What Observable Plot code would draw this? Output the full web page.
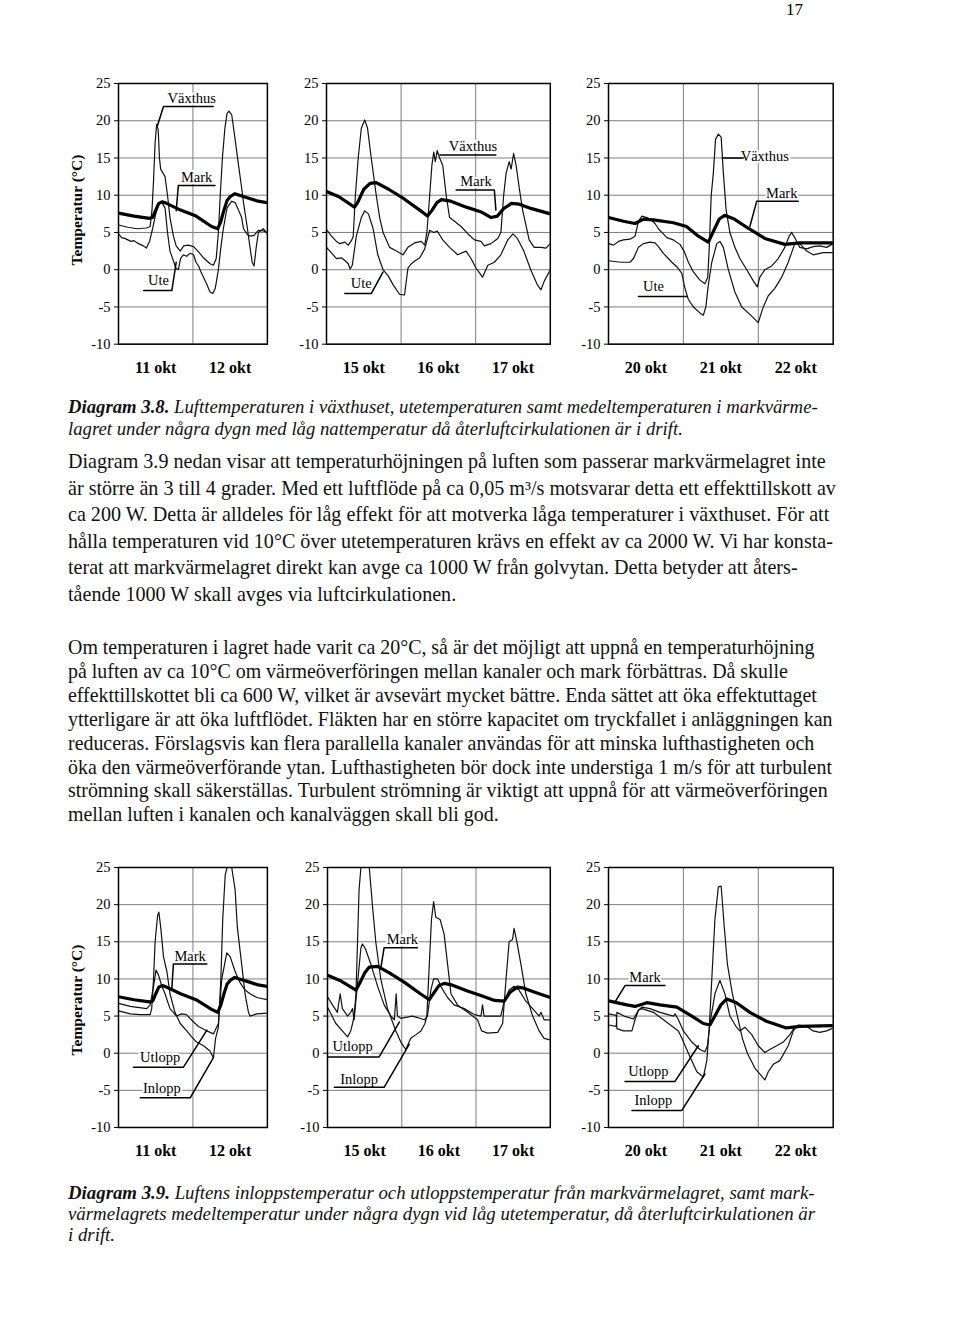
<!DOCTYPE html>
<html><head><meta charset="utf-8">
<script src="https://cdn.jsdelivr.net/npm/d3@7"></script>
<script src="https://cdn.jsdelivr.net/npm/@observablehq/plot@0.6"></script>
<style>
body{margin:0;background:#fff;}
#page{position:relative;width:960px;height:1344px;overflow:hidden;background:#fff;}
.chart{position:absolute;}
#txt{position:absolute;left:0;top:0;}
</style></head><body><div id="page"></div>
<script>
// ---------------- DATA ----------------
const yTicks = [-10, -5, 0, 5, 10, 15, 20, 25];
const daysA = ["11 okt", "12 okt"];
const daysB = ["15 okt", "16 okt", "17 okt"];
const daysC = ["20 okt", "21 okt", "22 okt"];

// Diagram 3.8 — [hour, °C]
const vaxthusA = [[0,6.0],[3,5.7],[6,5.5],[9,5.6],[10.2,5.8],[10.8,8],[11.3,12],[11.8,17],[12.3,19.5],[12.8,18.8],[13.2,15],[13.6,13.5],[14.3,13],[15,12.5],[15.8,10],[16.6,7],[17.7,4.5],[18.6,3.2],[19.9,2.5],[21,3.2],[22.5,3.3],[24.2,3.1],[25.8,2.4],[27.4,1.6],[29.5,0.8],[30.6,0.6],[31.5,1.5],[32.2,5],[32.8,10],[33.5,15],[34.3,19],[35.0,21.0],[35.6,21.3],[36.5,20.8],[37.6,17.5],[38.7,14],[39.7,11],[40.3,9],[41.4,6],[42.4,3],[43.1,1],[43.7,0.5],[44.4,3],[45.1,5],[46.7,5.5],[48,4.8]];
const uteA = [[0,4.8],[1,4.3],[2,4.2],[3,4.0],[4,3.8],[5,3.9],[6,3.6],[7,3.4],[8,3.2],[9,2.9],[10,3.8],[11,5.5],[12,7.5],[13,8.8],[14,9.0],[15,8.3],[15.8,5],[16.6,2.5],[17.7,1.2],[18.5,0.2],[19.3,0.0],[20,1.5],[20.9,2.0],[22,1.8],[23,2.2],[24.2,2.0],[25,1.0],[25.8,0.5],[26.6,-0.3],[27.4,-1.0],[28.5,-2.0],[29.5,-3.0],[30.4,-3.2],[31.2,-2.5],[32.2,0],[33.0,3],[33.8,5.5],[35,8.3],[36.5,9.2],[37.6,9.0],[38.7,8],[39.7,7],[40.3,5.5],[41.4,4.8],[42.4,4.5],[43.7,4.6],[45.1,5.3],[46.7,5.2],[48,5.0]];
const markA = [[0,7.6],[5,7.2],[10,6.9],[11,7.0],[12,8.0],[13,8.9],[14,9.1],[15,9.0],[20,8.0],[25,7.2],[30,5.8],[32,5.5],[33,6.5],[34,8],[35,9.3],[36,9.8],[37.5,10.2],[39,10.0],[42,9.6],[45,9.2],[48,9.0]];

const vaxthusB = [[0,5.4],[1.6,4.5],[3.2,3.8],[4.3,3.5],[5.9,3.7],[7.0,3.3],[8.0,3.9],[8.6,4.5],[9.3,10],[10.2,15],[11.2,19],[12.3,20.1],[13.2,19],[14.4,15],[16.0,10],[17.1,7],[18.2,5],[20.3,3],[22.5,2.5],[24.6,2],[26.2,3],[28.3,3.6],[30.5,3.8],[31.6,3.3],[32.3,5],[33.2,10],[33.9,14],[34.5,15.8],[35.0,14.5],[35.6,16],[36.4,15],[37.4,14],[38.5,10],[39.6,7],[41.2,6.5],[43.3,5.8],[45.5,4.8],[47.6,4],[49.7,3.8],[50.8,3.2],[52.9,3.5],[55.1,4.2],[56.1,5],[57.0,10],[57.8,13],[58.8,14.5],[59.4,13.5],[60.2,15.6],[61.0,14],[62.0,11],[63.1,8],[65.2,4],[66.8,3],[69.0,3],[70.6,2.9],[72,3.5]];
const uteB = [[0,3.0],[1.5,2.3],[3.2,1.5],[4.8,1.6],[6.0,1.2],[7.0,0.8],[7.6,0.1],[8.3,0.6],[9.6,4.5],[11.2,7.0],[12.3,7.9],[13.5,7.5],[15.0,5.5],[16.5,2],[18.2,0],[19.8,-0.8],[21.4,-2],[23.5,-3.3],[25.1,-3.4],[26.2,0.2],[27.3,0.8],[28.5,1.2],[30,1.6],[31.6,2.8],[33.2,5.3],[34.5,5.0],[35.6,5.2],[37.4,4],[39.6,3],[42.2,2],[44.9,2.5],[46.5,1.5],[48,0.3],[50.2,-1.0],[51.9,0.6],[54,1.0],[56.1,2],[58.3,4],[60,4.8],[61.4,4.2],[63.5,2.5],[65.7,0],[67.8,-2],[69.0,-2.7],[70.1,-1.5],[72,0]];
const markB = [[0,10.5],[4,9.8],[9,8.4],[10,9],[12,10.8],[14,11.6],[16,11.7],[20,10.8],[25,9.5],[30,8.0],[32.5,7.2],[34,8],[35.5,9],[37,9.4],[40,9.2],[45,8.4],[50,7.7],[53,7.0],[55,7.2],[57,8.2],[59.5,8.9],[62,8.8],[66,8.2],[72,7.5]];

const vaxthusC = [[0,3.5],[1.6,3.3],[3.2,3.8],[4.8,4.0],[6.9,4.1],[8.5,4.5],[9.6,6.5],[10.7,7.2],[12.3,7.0],[13.9,6.6],[14.9,6.2],[16,5.5],[17.1,5],[18.7,4.3],[20.8,4.0],[22.9,3.4],[24.2,2.5],[25.6,1],[27.2,-0.3],[29.3,-1.4],[30.9,-1.9],[31.8,-1],[32.3,3],[32.9,9.9],[33.6,13],[34.3,17.5],[35.2,18.2],[36.1,17.8],[36.8,13],[37.7,8],[38.9,5],[40.5,3],[42.1,1.5],[44.3,0],[46.4,-1.5],[47.7,-2.3],[48.5,-1],[50.1,0],[52.3,0.5],[54.4,1.5],[56.5,3],[57.9,4.5],[58.7,5],[59.7,4.3],[61.3,3],[63.5,2.8],[65.6,3.1],[67.7,3.2],[69.9,3],[72,3.5]];
const uteC = [[0,1.2],[2,1.1],[4,1.0],[6.9,1.0],[8.0,1.5],[9.6,3],[11.2,3.5],[13.3,3.7],[14.9,3.6],[16,3.1],[17.6,2.2],[20.3,1],[21.9,0.4],[23.5,-0.5],[24.5,-2.5],[25.6,-4],[27.2,-5],[29.3,-5.8],[30.4,-6.1],[31.2,-5],[32.0,-2],[33.1,1],[34.7,3.5],[35.7,3.8],[36.8,3],[38.4,0],[40.5,-3],[42.7,-5],[45.3,-6],[48.0,-7.1],[49.6,-5],[51.2,-3.5],[53.3,-2.5],[55.5,-1],[57.6,1],[59.7,3.5],[61.3,3.5],[63.5,2.5],[65.6,2.0],[68.8,2.3],[72,2.3]];
const markC = [[0,7.0],[4.8,6.5],[8.5,6.2],[11.2,6.8],[14.4,6.7],[20.8,6.3],[25,5.8],[28.8,4.5],[32,3.7],[34,5.5],[35.5,6.8],[37.2,7.3],[40.3,6.8],[45,5.5],[50.1,4.2],[56.5,3.4],[61.3,3.6],[72,3.6]];

// Diagram 3.9 — [hour, °C]
const inloppD = [[0,5.7],[3.8,5.3],[7,5.2],[10.2,5.2],[10.7,6],[11.3,10],[11.8,15],[12.6,18.5],[13.0,19.0],[13.6,17],[14.5,13],[15.6,11],[16.6,8],[18.2,5.5],[19.9,4],[22,3],[23.6,2.2],[25.2,1.5],[27.4,1],[29.5,0.3],[30.6,-0.6],[31.3,2],[32.2,3.5],[33,10],[33.6,18],[34.4,24],[35.0,25],[36.5,25],[37.6,22],[38.3,17],[39.7,12],[40.8,8],[41.9,5.5],[42.4,5],[44.6,5.3],[48,5.4]];
const utloppD = [[0,6.7],[3.8,6.3],[9.1,6.0],[10.2,6.5],[11.3,9],[12.1,11.2],[12.9,10.5],[14,9],[15,8],[16.6,6],[18.7,5],[20.3,5.3],[21.9,5.2],[24.2,4.2],[25.8,3.6],[28.5,3.0],[30.6,2.6],[32.2,4],[33.3,10],[34.9,13.5],[36,13],[37.6,11],[39.2,9.5],[40.8,8.5],[42.4,8],[44.6,7.5],[48,7.2]];
const markD = [[0,7.6],[5,7.2],[10,6.9],[11,7.0],[12,8.0],[13,8.9],[14,9.1],[15,9.0],[20,8.0],[25,7.2],[30,5.9],[32,5.5],[33,6.5],[34,8],[35,9.3],[36,9.8],[37.5,10.2],[39,10.0],[42,9.6],[45,9.2],[48,9.0]];

const inloppE = [[0,6.2],[2.7,4],[4.8,3],[6.5,2.2],[7.5,3],[8.1,4],[8.6,5],[9.2,8],[9.7,15],[10.2,22],[10.8,25],[13.5,25],[14.5,20],[15.6,15],[17.2,10],[19.4,6],[22.1,3],[23.7,1.5],[25.3,0.5],[26.9,2],[28.6,2.5],[30.2,3],[31.5,4],[32.1,5],[32.9,12],[33.6,18],[34.3,20.4],[35,18.3],[36.4,18],[37.7,16],[38.8,12],[39.9,8],[42,6.5],[45.3,5.5],[48.5,4.5],[49.8,3],[51.7,2.7],[55,2.8],[56.6,4],[57.7,10],[58.7,15],[59.8,15.3],[60.3,16.8],[61.2,15],[62.5,12],[64.1,8],[66.3,5],[68.4,3],[70,2],[72,1.8]];
const utloppE = [[0,7.6],[1.6,6.5],[3.2,5.5],[4.1,8.0],[4.8,6],[6.5,5],[7.5,5.5],[8.1,6],[8.6,4.5],[9.5,8.5],[10.8,14.2],[11.3,14.7],[12.3,14],[14,12],[16.2,9],[18.3,6.5],[20.5,5],[21.6,4.5],[22.2,8],[22.6,5],[23.7,4.7],[27.4,5.0],[29.1,4.8],[31.3,4.5],[32.3,5],[33.4,8.5],[34.3,10],[35.6,10],[36.6,9],[38.8,7.5],[40.9,6.5],[44.2,6],[47.4,5.2],[49.6,5],[50.1,6.5],[50.6,5],[56.0,5],[57.1,7],[58.7,8.5],[60.3,9],[61.9,8.5],[64.1,7],[66.3,6],[68.4,5],[69.0,5.5],[70,4.5],[72,4.5]];
const markE = [[0,10.5],[4,9.8],[9.2,8.5],[10.5,9.5],[12,10.8],[13.5,11.6],[16.2,11.7],[20,10.8],[25,9.5],[30,8.0],[32.9,7.2],[34.5,8.2],[36,9.1],[37.7,9.4],[40,9.2],[45,8.4],[50,7.7],[54,7.1],[57.1,7.0],[59,8.2],[61.4,8.9],[63,8.8],[67,8.2],[72,7.5]];

const inloppF = [[0,3.8],[2.5,3.6],[2.7,5.5],[5,5.0],[8,4.6],[9.6,5.8],[10.7,6.0],[14.4,5.5],[17.6,4.5],[22.4,3],[23.5,2],[25.6,0],[28.3,-2.5],[30.4,-3.2],[31.5,-1],[32.3,3.5],[33.1,10],[34.1,18],[35.2,22.4],[36.1,22.5],[37.1,17],[38.1,12],[39.7,8],[41.3,5],[42.9,2],[44.5,0],[46.9,-2],[50.1,-3.6],[51.2,-2.5],[52.8,-1.5],[54.9,-1],[57.6,1],[59.2,3],[60.8,3.8],[63.5,3.6],[65.6,3.0],[67.7,2.8],[69.9,3.0],[72,3.4]];
const utloppF = [[0,5.3],[2.5,5.1],[2.7,3.3],[4.8,3.0],[7.5,3.0],[8.5,4.5],[9.6,5.8],[10.7,6.2],[13.3,6.0],[16.5,5.5],[20.8,5.0],[21.3,5.3],[22.4,4.5],[24,3],[26.7,1.5],[29.3,0.5],[30.9,0.2],[31.7,1],[32.5,4],[34.1,8],[35.7,9.8],[37.3,8],[38.9,5],[41,3.5],[42.1,3],[43.7,3.5],[45.9,2.5],[48,1],[50.1,0.1],[51.7,0.5],[53.9,1],[56,1.5],[58.1,2.5],[59.7,3.5],[61.3,3.7],[72,3.6]];
const markF = [[0,7.05],[5.9,6.5],[8.5,6.3],[12.3,6.8],[16.5,6.5],[21.9,6.2],[26.7,5],[30.4,4],[32.5,3.8],[34.1,5],[36.0,6.5],[37.9,7.3],[41,6.8],[45.3,5.5],[50.6,4.3],[57,3.4],[61.3,3.6],[72,3.7]];

// Series labels with their callout lines (data coordinates: hour, °C)
const annA = [
  {text:"Växthus", x:23.6, y:23.0, leader:[[30.6,21.9],[14.5,21.9],[12.6,19.4]]},
  {text:"Mark", x:25.2, y:12.4, leader:[[31.1,11.3],[19.3,11.3],[18.6,7.9]]},
  {text:"Ute", x:12.9, y:-1.4, leader:[[8.1,-2.8],[17.2,-2.8],[18.6,1.0]]}];
const annB = [
  {text:"Växthus", x:47.1, y:16.5, leader:[[54.5,15.4],[36.5,15.4]]},
  {text:"Mark", x:48.1, y:11.8, leader:[[41.7,10.7],[54.0,10.7],[54.5,8.0]]},
  {text:"Ute", x:11.2, y:-1.9, leader:[[5.9,-3.2],[14.4,-3.2],[18.2,-0.3]]}];
const annC = [
  {text:"Växthus", x:50.1, y:15.2, leader:[[43.2,15.0],[36.5,15.0]]},
  {text:"Mark", x:55.5, y:10.3, leader:[[60.8,9.2],[47.5,9.2],[45.3,5.8]]},
  {text:"Ute", x:14.4, y:-2.3, leader:[[9.6,-3.6],[25.2,-3.6]]}];
const annD = [
  {text:"Mark", x:23.1, y:13.1, leader:[[28.5,12.0],[17.7,12.0],[17.2,8.7]]},
  {text:"Utlopp", x:13.4, y:-0.5, leader:[[4.8,-1.9],[20.9,-1.9],[28.5,3.1]]},
  {text:"Inlopp", x:14.0, y:-4.7, leader:[[7.0,-6.0],[23.1,-6.0],[30.6,-0.6]]}];
const annE = [
  {text:"Mark", x:24.2, y:15.3, leader:[[29.1,14.2],[18.3,14.2],[17.2,11.4]]},
  {text:"Utlopp", x:8.1, y:0.9, leader:[[0,-0.5],[16.7,-0.5],[23.2,4.2]]},
  {text:"Inlopp", x:10.2, y:-3.5, leader:[[2.2,-4.6],[18.3,-4.6],[26.4,1.2]]}];
const annF = [
  {text:"Mark", x:11.7, y:10.2, leader:[[18.1,9.1],[5.3,9.1],[2.1,6.9]]},
  {text:"Utlopp", x:12.8, y:-2.5, leader:[[5.3,-3.8],[21.3,-3.8],[28.8,1.0]]},
  {text:"Inlopp", x:14.4, y:-6.3, leader:[[7.5,-7.7],[23.5,-7.7],[30.9,-2.8]]}];

// Texts
const pageNumber = "17";
const yAxisTitle = "Temperatur (°C)";
const caption38 = [
  [["Diagram 3.8. ", true], ["Lufttemperaturen i växthuset, utetemperaturen samt medeltemperaturen i markvärme-", false]],
  [["lagret under några dygn med låg nattemperatur då återluftcirkulationen är i drift.", false]]];
const para1 = [
  "Diagram 3.9 nedan visar att temperaturhöjningen på luften som passerar markvärmelagret inte",
  "är större än 3 till 4 grader. Med ett luftflöde på ca 0,05 m³/s motsvarar detta ett effekttillskott av",
  "ca 200 W. Detta är alldeles för låg effekt för att motverka låga temperaturer i växthuset. För att",
  "hålla temperaturen vid 10°C över utetemperaturen krävs en effekt av ca 2000 W. Vi har konsta-",
  "terat att markvärmelagret direkt kan avge ca 1000 W från golvytan. Detta betyder att åters-",
  "tående 1000 W skall avges via luftcirkulationen."];
const para2 = [
  "Om temperaturen i lagret hade varit ca 20°C, så är det möjligt att uppnå en temperaturhöjning",
  "på luften av ca 10°C om värmeöverföringen mellan kanaler och mark förbättras. Då skulle",
  "effekttillskottet bli ca 600 W, vilket är avsevärt mycket bättre. Enda sättet att öka effektuttaget",
  "ytterligare är att öka luftflödet. Fläkten har en större kapacitet om tryckfallet i anläggningen kan",
  "reduceras. Förslagsvis kan flera parallella kanaler användas för att minska lufthastigheten och",
  "öka den värmeöverförande ytan. Lufthastigheten bör dock inte understiga 1 m/s för att turbulent",
  "strömning skall säkerställas. Turbulent strömning är viktigt att uppnå för att värmeöverföringen",
  "mellan luften i kanalen och kanalväggen skall bli god."];
const caption39 = [
  [["Diagram 3.9. ", true], ["Luftens inloppstemperatur och utloppstemperatur från markvärmelagret, samt mark-", false]],
  [["värmelagrets medeltemperatur under några dygn vid låg utetemperatur, då återluftcirkulationen är", false]],
  [[" i drift.", false]]];

// ---------------- RENDER ----------------
const FONT = "'Liberation Serif','Times New Roman',serif";
const page = document.getElementById("page");

function panel(cfg) {
  const ml = 44, mr = 4, mt = 6, mb = 46;
  const W = cfg.right - cfg.left, H = cfg.bottom - cfg.top;
  const nd = cfg.days.length;
  const mids = cfg.days.map((d, i) => i * 24 + 12);
  const bounds = d3.range(1, nd).map(i => i * 24);
  const marks = [
    Plot.ruleY(yTicks, {stroke: "#7d7d7d", strokeWidth: 1}),
    Plot.ruleX(bounds, {stroke: "#7d7d7d", strokeWidth: 1})
  ];
  for (const s of cfg.thin) marks.push(Plot.line(s, {x: d => d[0], y: d => d[1], stroke: "#111", strokeWidth: 1.2, clip: true}));
  marks.push(Plot.line(cfg.mark, {x: d => d[0], y: d => d[1], stroke: "#000", strokeWidth: 3.2, clip: true}));
  marks.push(Plot.text(cfg.ann, {x: "x", y: "y", text: "text", fill: "#000", stroke: "#fff", strokeWidth: 4, fontSize: 14.5}));
  for (const a of cfg.ann) marks.push(Plot.line(a.leader, {x: d => d[0], y: d => d[1], stroke: "#000", strokeWidth: 1.5}));
  marks.push(Plot.frame({stroke: "#000", strokeWidth: 1.5}));
  marks.push(Plot.axisY(yTicks, {tickSize: 4, tickPadding: 4, tickFormat: d => String(d), fontSize: 14.5, label: null}));
  marks.push(Plot.axisX(mids, {tickSize: 0, tickPadding: 17, tickFormat: d => cfg.days[Math.round((d - 12) / 24)], fontSize: 16, fontWeight: "bold", label: null}));
  const svg = Plot.plot({
    width: W + ml + mr, height: H + mt + mb,
    marginLeft: ml, marginRight: mr, marginTop: mt, marginBottom: mb,
    x: {domain: [0, nd * 24]}, y: {domain: [-10, 25]},
    style: {fontFamily: FONT, background: "transparent", color: "#000", overflow: "visible"},
    marks
  });
  const div = document.createElement("div");
  div.className = "chart";
  div.style.left = (cfg.left - ml) + "px";
  div.style.top = (cfg.top - mt) + "px";
  div.appendChild(svg);
  page.appendChild(div);
}

const rowTop = {top: 83.3, bottom: 344};
const rowBot = {top: 867.3, bottom: 1127.3};
panel({...rowTop, left: 118.3, right: 267.2, days: daysA, thin: [vaxthusA, uteA], mark: markA, ann: annA});
panel({...rowTop, left: 325.5, right: 549.3, days: daysB, thin: [vaxthusB, uteB], mark: markB, ann: annB});
panel({...rowTop, left: 608.3, right: 833, days: daysC, thin: [vaxthusC, uteC], mark: markC, ann: annC});
panel({...rowBot, left: 118.3, right: 267.2, days: daysA, thin: [inloppD, utloppD], mark: markD, ann: annD});
panel({...rowBot, left: 326.5, right: 549.3, days: daysB, thin: [inloppE, utloppE], mark: markE, ann: annE});
panel({...rowBot, left: 608.3, right: 833, days: daysC, thin: [inloppF, utloppF], mark: markF, ann: annF});

// Text layer
const svgT = d3.select(page).append("svg").attr("id", "txt").attr("width", 960).attr("height", 1344)
  .style("font-family", FONT).style("pointer-events", "none");
svgT.append("text").attr("x", 786).attr("y", 15).attr("font-size", 17).text(pageNumber);
for (const cy of [210, 1000]) {
  svgT.append("text").attr("transform", `translate(76,${cy}) rotate(-90)`).attr("text-anchor", "middle")
    .attr("dominant-baseline", "central").attr("font-weight", "bold").attr("font-size", 15.5).text(yAxisTitle);
}
function block(lines, opt) {
  const g = svgT.append("g").attr("font-size", 18).attr("font-style", opt.italic ? "italic" : null).attr("fill", "#111");
  const els = lines.map((ln, i) => {
    const t = g.append("text").attr("x", opt.x).attr("y", opt.y0 + i * opt.dy);
    const parts = typeof ln === "string" ? [[ln, false]] : ln;
    for (const [s, b] of parts) t.append("tspan").attr("font-weight", b ? "bold" : null).text(s);
    return t;
  });
  const w = els[0].node().getComputedTextLength();
  g.attr("font-size", 18 * opt.target / w);
}
block(caption38, {x: 68, y0: 413, dy: 22, italic: true, target: 750});
block(para1, {x: 68, y0: 468, dy: 26.5, italic: false, target: 758});
block(para2, {x: 68, y0: 654, dy: 23.9, italic: false, target: 747});
block(caption39, {x: 68, y0: 1199, dy: 21, italic: true, target: 747});
</script></body></html>
